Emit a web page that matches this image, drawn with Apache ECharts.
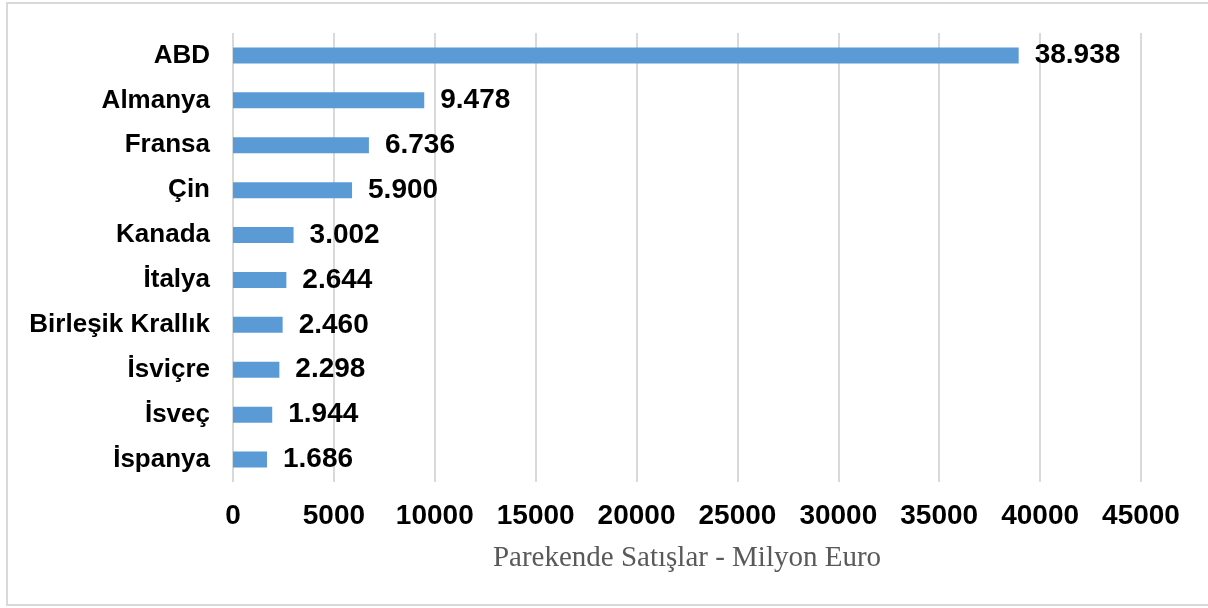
<!DOCTYPE html>
<html>
<head>
<meta charset="utf-8">
<script src="https://cdn.jsdelivr.net/npm/echarts@6/dist/echarts.min.js"></script>
<style>html,body{margin:0;padding:0;background:#fff;}#c{width:1208px;height:608px;}</style>
</head>
<body>
<div id="c"></div>
<script>
const categories = ['ABD','Almanya','Fransa','Çin','Kanada','İtalya','Birleşik Krallık','İsviçre','İsveç','İspanya'];
const salesValues = [38938, 9478, 6736, 5900, 3002, 2644, 2460, 2298, 1944, 1686];
const axisName = 'Parekende Satışlar - Milyon Euro';

function fmt(v){ return String(v).replace(/\B(?=(\d{3})+(?!\d))/g, '.'); }

const chart = echarts.init(document.getElementById('c'), null, {renderer:'canvas'});
chart.setOption({
  animation: false,
  backgroundColor: '#fff',
  graphic: [{
    type: 'rect', shape: {x: 7, y: 3, width: 1215, height: 602},
    style: {fill: 'none', stroke: '#d9d9d9', lineWidth: 2}, silent: true
  }],
  grid: {left: 233, right: 67, top: 33, bottom: 126, containLabel: false},
  xAxis: {
    type: 'value', min: 0, max: 45000, interval: 5000,
    axisLine: {show: false}, axisTick: {show: false},
    splitLine: {show: true, lineStyle: {color: '#d9d9d9', width: 2}},
    axisLabel: {color: '#000', fontFamily: 'Liberation Sans, Arial', fontWeight: 'bold', fontSize: 28, margin: 20,
      formatter: v => String(v)},
    name: axisName, nameLocation: 'middle', nameGap: 62,
    nameTextStyle: {color: '#595959', fontFamily: 'Liberation Serif, Times New Roman', fontSize: 29}
  },
  yAxis: {
    type: 'category', data: categories, inverse: true,
    axisLine: {show: false}, axisTick: {show: false},
    axisLabel: {color: '#000', fontFamily: 'Liberation Sans, Arial', fontWeight: 'bold', fontSize: 26, margin: 23}
  },
  series: [{
    type: 'bar', data: salesValues, barWidth: 16,
    itemStyle: {color: '#5b9bd5'},
    label: {show: true, position: 'right', distance: 16, formatter: p => fmt(p.value),
      color: '#000', fontFamily: 'Liberation Sans, Arial', fontWeight: 'bold', fontSize: 28}
  }]
});
</script>
</body>
</html>
